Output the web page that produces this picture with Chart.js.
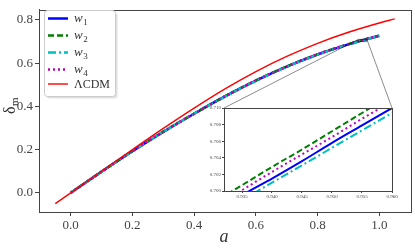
<!DOCTYPE html>
<html>
<head>
<meta charset="utf-8">
<script src="https://cdn.jsdelivr.net/npm/chart.js@4.4.0/dist/chart.umd.min.js"></script>
<style>
    html, body { margin: 0; padding: 0; background: #fff; }
    #wrap { position: relative; width: 415px; height: 248px; }
    #main { position: absolute; left: 0; top: 0; }
    #inset { position: absolute; left: 190px; top: 100px; }
</style>
</head>
<body>
<div id="wrap">
    <canvas id="main" width="415" height="248" style="width:415px;height:248px"></canvas>
    <canvas id="inset" width="210" height="108" style="width:210px;height:108px"></canvas>
</div>
<script>
// === Datos ===
const aW = [0.0, 0.1, 0.2, 0.3, 0.4, 0.5, 0.6, 0.7, 0.8, 0.9, 1.0];
const w1 = [0.000, 0.098, 0.193, 0.282, 0.366, 0.446, 0.519, 0.584, 0.640, 0.687, 0.727];
const w2 = [0.000, 0.098, 0.193, 0.283, 0.367, 0.447, 0.520, 0.585, 0.641, 0.688, 0.728];
const w3 = [0.000, 0.098, 0.193, 0.282, 0.366, 0.445, 0.518, 0.583, 0.639, 0.686, 0.726];
const w4 = [0.000, 0.098, 0.193, 0.282, 0.366, 0.446, 0.519, 0.584, 0.641, 0.688, 0.728];

const aLcdm = [-0.05, 0.0, 0.1, 0.2, 0.3, 0.4, 0.5, 0.6, 0.7, 0.8, 0.9, 1.0, 1.05];
const lcdm = [-0.050, 0.000, 0.100, 0.200, 0.298, 0.392, 0.481, 0.561, 0.631, 0.692, 0.743, 0.786, 0.805];

// zoom (inset)
const aIn = [0.930, 0.935, 0.940, 0.945, 0.950, 0.955, 0.960];
const w1In = [0.6973, 0.6995, 0.7015, 0.7036, 0.7058, 0.7079, 0.7100];
const w2In = [0.6985, 0.7007, 0.7029, 0.7050, 0.7072, 0.7094, 0.7116];
const w3In = [0.6968, 0.6989, 0.7010, 0.7031, 0.7052, 0.7073, 0.7094];
const w4In = [0.6980, 0.7001, 0.7023, 0.7044, 0.7065, 0.7087, 0.7108];

const xTicks = [0.0, 0.2, 0.4, 0.6, 0.8, 1.0];
const yTicks = [0.0, 0.2, 0.4, 0.6, 0.8];
const xTicksIn = [0.935, 0.940, 0.945, 0.950, 0.955, 0.960];
const yTicksIn = [0.700, 0.702, 0.704, 0.706, 0.708, 0.710];

const seriesNames = ["w", "w", "w", "w", "\u039BCDM"];
const seriesSubs = ["1", "2", "3", "4", ""];

const zoomBox = { x0: 0.932, x1: 0.960, y0: 0.700, y1: 0.710 };

// === Estilos ===
const serif = "'Liberation Serif', 'DejaVu Serif', serif";
const frameColor = "#444";
const textColor = "#444";
const styles = [
    { color: "#0000ff", dash: [], width: 2.5 },
    { color: "#008000", dash: [6, 3], width: 2.5 },
    { color: "#00bfbf", dash: [8, 3, 2, 3], width: 2.5 },
    { color: "#bf00bf", dash: [2, 3], width: 2.5 },
    { color: "#ff0000", dash: [], width: 1.4 }
];

function pares(xs, ys) {
    return xs.map((x, i) => ({ x: x, y: ys[i] }));
}

function dataset(xs, ys, st, order, width) {
    return {
        data: pares(xs, ys),
        borderColor: st.color,
        borderDash: st.dash,
        borderWidth: width ?? st.width,
        pointRadius: 0,
        fill: false,
        cubicInterpolationMode: "monotone",
        order: order
    };
}

// fondo blanco + marco
const marco = {
    id: "marco",
    beforeDraw(chart) {
        const { ctx, chartArea: ca } = chart;
        ctx.save();
        ctx.fillStyle = "#fff";
        if (chart.options.fondoTotal) ctx.fillRect(0, 0, chart.width, chart.height);
        else ctx.fillRect(ca.left, ca.top, ca.right - ca.left, ca.bottom - ca.top);
        ctx.restore();
    },
    afterDraw(chart) {
        const { ctx, chartArea: ca } = chart;
        ctx.save();
        ctx.strokeStyle = frameColor;
        ctx.lineWidth = 1;
        ctx.strokeRect(Math.round(ca.left) + 0.5, Math.round(ca.top) + 0.5,
            Math.round(ca.right - ca.left), Math.round(ca.bottom - ca.top));
        ctx.restore();
    }
};

// === Inset ===
const insetChart = new Chart(document.getElementById("inset").getContext("2d"), {
    type: "line",
    data: {
        datasets: [
            dataset(aIn, w1In, styles[0], 4, 2),
            dataset(aIn, w2In, styles[1], 3, 2),
            dataset(aIn, w3In, styles[2], 2, 2),
            dataset(aIn, w4In, styles[3], 1, 2)
        ]
    },
    options: {
        responsive: false,
        animation: false,
        layout: { padding: { top: 8, right: 8, left: 0, bottom: 0 } },
        plugins: { legend: { display: false }, tooltip: { enabled: false } },
        scales: {
            x: {
                type: "linear", min: 0.932, max: 0.960,
                afterBuildTicks: s => { s.ticks = xTicksIn.map(v => ({ value: v })); },
                afterFit: s => { s.height = 17; },
                grid: { drawOnChartArea: false, tickLength: 2, color: frameColor },
                border: { color: frameColor },
                ticks: { font: { family: serif, size: 5 }, color: textColor, padding: 1, maxRotation: 0,
                    callback: v => v.toFixed(3) }
            },
            y: {
                type: "linear", min: 0.700, max: 0.710,
                afterBuildTicks: s => { s.ticks = yTicksIn.map(v => ({ value: v })); },
                afterFit: s => { s.width = 34; },
                grid: { drawOnChartArea: false, tickLength: 2, color: frameColor },
                border: { color: frameColor },
                ticks: { font: { family: serif, size: 5 }, color: textColor, padding: 1,
                    callback: v => v.toFixed(3) }
            }
        }
    },
    plugins: [marco]
});

const insetPos = { left: 190, top: 100 };

// recuadro + lineas de conexion
const zoomMarca = {
    id: "zoomMarca",
    afterDatasetsDraw(chart) {
        const { ctx, scales } = chart;
        const ia = insetChart.chartArea;
        const x0 = scales.x.getPixelForValue(zoomBox.x0);
        const x1 = scales.x.getPixelForValue(zoomBox.x1);
        const y0 = scales.y.getPixelForValue(zoomBox.y1);
        const y1 = scales.y.getPixelForValue(zoomBox.y0);
        ctx.save();
        ctx.strokeStyle = "rgba(0,0,0,0.45)";
        ctx.lineWidth = 1;
        ctx.strokeRect(x0, y0, x1 - x0, y1 - y0);
        ctx.beginPath();
        ctx.moveTo(x0, y0);
        ctx.lineTo(insetPos.left + ia.left, insetPos.top + ia.top);
        ctx.moveTo(x1, y0);
        ctx.lineTo(insetPos.left + ia.right, insetPos.top + ia.top);
        ctx.stroke();
        ctx.restore();
    }
};

// leyenda y titulos de ejes
const leyenda = {
    id: "leyenda",
    afterDraw(chart) {
        const ctx = chart.ctx;
        const bx = 44.5, by = 10.5, bw = 71, bh = 86;
        ctx.save();
        ctx.fillStyle = "rgba(0,0,0,0.12)";
        ctx.beginPath();
        ctx.roundRect(bx + 2, by + 2, bw, bh, 3);
        ctx.fill();
        ctx.fillStyle = "#fff";
        ctx.strokeStyle = "#cccccc";
        ctx.lineWidth = 1;
        ctx.beginPath();
        ctx.roundRect(bx, by, bw, bh, 3);
        ctx.fill();
        ctx.stroke();

        const rows = [18.5, 35.5, 52.5, 69.5, 84];
        chart.data.datasets.forEach((ds) => {
            const i = ds.leyendaIdx;
            const y = rows[i];
            ctx.strokeStyle = ds.borderColor;
            ctx.lineWidth = ds.borderWidth;
            ctx.setLineDash(ds.borderDash);
            ctx.beginPath();
            ctx.moveTo(48, y);
            ctx.lineTo(68, y);
            ctx.stroke();
            ctx.setLineDash([]);
            ctx.fillStyle = "#333";
            ctx.textBaseline = "alphabetic";
            ctx.textAlign = "left";
            if (seriesSubs[i]) {
                ctx.font = "italic 13px " + serif;
                ctx.fillText(seriesNames[i], 74, y + 3);
                const w = ctx.measureText(seriesNames[i]).width;
                ctx.font = "9px " + serif;
                ctx.fillText(seriesSubs[i], 74 + w + 0.5, y + 6);
            } else {
                ctx.font = "12px " + serif;
                ctx.fillText(seriesNames[i], 74, y + 4.3);
            }
        });

        // titulo eje x
        ctx.fillStyle = "#333";
        ctx.font = "italic 18px " + serif;
        ctx.textAlign = "center";
        ctx.textBaseline = "alphabetic";
        ctx.fillText("a", 224, 242);

        // titulo eje y (rotado)
        ctx.translate(15, 106);
        ctx.rotate(-Math.PI / 2);
        ctx.textAlign = "left";
        ctx.font = "16px " + serif;
        const dw = ctx.measureText("\u03B4").width;
        ctx.fillText("\u03B4", -8, 0);
        ctx.font = "11px " + serif;
        ctx.fillText("m", -8 + dw + 0.5, 3);
        ctx.restore();
    }
};

// === Grafico principal ===
const dsMain = [
    dataset(aW, w1, styles[0], 4),
    dataset(aW, w2, styles[1], 3),
    dataset(aW, w3, styles[2], 2),
    dataset(aW, w4, styles[3], 1),
    dataset(aLcdm, lcdm, styles[4], 0)
];
dsMain.forEach((d, i) => { d.leyendaIdx = i; });

new Chart(document.getElementById("main").getContext("2d"), {
    type: "line",
    data: { datasets: dsMain },
    options: {
        responsive: false,
        animation: false,
        fondoTotal: true,
        layout: { padding: { top: 4, right: 4, left: 0, bottom: 0 } },
        plugins: { legend: { display: false }, tooltip: { enabled: false } },
        scales: {
            x: {
                type: "linear", min: -0.1028, max: 1.1028,
                afterBuildTicks: s => { s.ticks = xTicks.map(v => ({ value: v })); },
                afterFit: s => { s.height = 36; },
                grid: { drawOnChartArea: false, tickLength: 4, color: frameColor },
                border: { color: frameColor },
                ticks: { font: { family: serif, size: 13 }, color: textColor, padding: 2, maxRotation: 0,
                    callback: v => v.toFixed(1) }
            },
            y: {
                type: "linear", min: -0.0888, max: 0.847,
                afterBuildTicks: s => { s.ticks = yTicks.map(v => ({ value: v })); },
                afterFit: s => { s.width = 39; },
                grid: { drawOnChartArea: false, tickLength: 4, color: frameColor },
                border: { color: frameColor },
                ticks: { font: { family: serif, size: 13 }, color: textColor, padding: 2,
                    callback: v => v.toFixed(1) }
            }
        }
    },
    plugins: [marco, zoomMarca, leyenda]
});
</script>
</body>
</html>
